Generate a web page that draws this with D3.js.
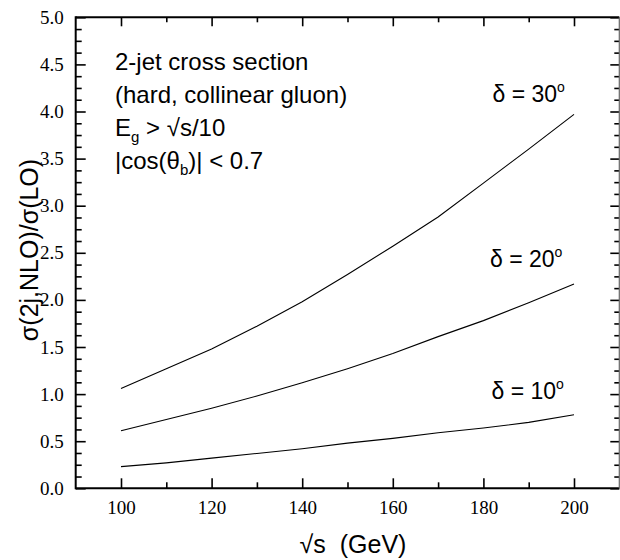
<!DOCTYPE html>
<html>
<head>
<meta charset="utf-8">
<script src="https://cdn.jsdelivr.net/npm/d3@7"></script>
<style>
  body { margin: 0; background: #fff; }
  svg { display: block; }
</style>
</head>
<body>
<script>
// sqrt(s) in GeV and the NLO/LO ratio for three cone sizes
var sqrtS   = [100, 110, 120, 130, 140, 150, 160, 170, 180, 190, 200];
var delta30 = [1.06, 1.27, 1.48, 1.72, 1.98, 2.27, 2.57, 2.88, 3.24, 3.60, 3.97];
var delta20 = [0.61, 0.73, 0.85, 0.98, 1.12, 1.27, 1.43, 1.61, 1.78, 1.97, 2.17];
var delta10 = [0.23, 0.27, 0.32, 0.37, 0.42, 0.48, 0.53, 0.59, 0.64, 0.70, 0.78];
var curveLabels = ['30', '20', '10'];

var xMajor = [100, 120, 140, 160, 180, 200];
var xMinor = [110, 130, 150, 170, 190];
var yMajor = [0, 0.5, 1, 1.5, 2, 2.5, 3, 3.5, 4, 4.5, 5];

var W = 620, H = 560;
var box = {left: 75.7, right: 619.3, top: 17.3, bottom: 488.3};

var svg = d3.select('body').append('svg')
  .attr('width', W)
  .attr('height', H);

var x = d3.scaleLinear().domain([90, 210]).range([box.left, box.right]);
var y = d3.scaleLinear().domain([0, 5]).range([box.bottom, box.top]);

var yMinor = d3.range(0, 5.0001, 0.125).filter(function(v) {
  return yMajor.indexOf(v) < 0;
});

var serif = '"Liberation Serif", "Times New Roman", serif';
var sans = '"Liberation Sans", Arial, sans-serif';

function styleAxis(g) {
  g.select('.domain').remove();
  g.selectAll('.tick line').attr('stroke', '#000').attr('stroke-width', 1.6);
  g.selectAll('.tick text')
    .attr('fill', '#000')
    .style('font-family', serif)
    .style('font-size', '19px');
}

// bottom axis
svg.append('g')
  .attr('transform', 'translate(0,' + box.bottom + ')')
  .call(d3.axisBottom(x).tickValues(xMajor).tickSize(-10).tickPadding(12).tickFormat(d3.format('d')))
  .call(styleAxis);
svg.append('g')
  .attr('transform', 'translate(0,' + box.bottom + ')')
  .call(d3.axisBottom(x).tickValues(xMinor).tickSize(-6).tickFormat(''))
  .call(styleAxis);

// top axis (ticks only)
svg.append('g')
  .attr('transform', 'translate(0,' + box.top + ')')
  .call(d3.axisTop(x).tickValues(xMajor).tickSize(-9).tickFormat(''))
  .call(styleAxis);
svg.append('g')
  .attr('transform', 'translate(0,' + box.top + ')')
  .call(d3.axisTop(x).tickValues(xMinor).tickSize(-5).tickFormat(''))
  .call(styleAxis);

// left axis
svg.append('g')
  .attr('transform', 'translate(' + box.left + ',0)')
  .call(d3.axisLeft(y).tickValues(yMajor).tickSize(-10).tickPadding(12).tickFormat(d3.format('.1f')))
  .call(styleAxis);
svg.append('g')
  .attr('transform', 'translate(' + box.left + ',0)')
  .call(d3.axisLeft(y).tickValues(yMinor).tickSize(-6).tickFormat(''))
  .call(styleAxis);

// right axis (ticks only)
svg.append('g')
  .attr('transform', 'translate(' + box.right + ',0)')
  .call(d3.axisRight(y).tickValues(yMajor).tickSize(-9).tickFormat(''))
  .call(styleAxis);
svg.append('g')
  .attr('transform', 'translate(' + box.right + ',0)')
  .call(d3.axisRight(y).tickValues(yMinor).tickSize(-5).tickFormat(''))
  .call(styleAxis);

// frame
var frame = svg.append('g').attr('stroke', '#000').attr('fill', 'none');
frame.append('line').attr('x1', box.left).attr('x2', box.right).attr('y1', box.bottom).attr('y2', box.bottom).attr('stroke-width', 2);
frame.append('line').attr('x1', box.left).attr('x2', box.right).attr('y1', box.top).attr('y2', box.top).attr('stroke-width', 2);
frame.append('line').attr('x1', box.left).attr('x2', box.left).attr('y1', box.top - 1).attr('y2', box.bottom + 1).attr('stroke-width', 2);
frame.append('line').attr('x1', box.right).attr('x2', box.right).attr('y1', box.top).attr('y2', box.bottom).attr('stroke-width', 1.2).attr('stroke', '#666');

// curves
var line = d3.line()
  .x(function(d) { return x(d[0]); })
  .y(function(d) { return y(d[1]); });

[delta30, delta20, delta10].forEach(function(vals) {
  svg.append('path')
    .datum(sqrtS.map(function(s, i) { return [s, vals[i]]; }))
    .attr('d', line)
    .attr('fill', 'none')
    .attr('stroke', '#000')
    .attr('stroke-width', 1.1);
});

// curve labels
var labelPos = [[492.5, 101.7], [490, 266.7], [491.5, 399.3]];
curveLabels.forEach(function(lab, i) {
  var t = svg.append('text')
    .attr('x', labelPos[i][0])
    .attr('y', labelPos[i][1])
    .style('font-family', sans)
    .style('font-size', '23px');
  t.append('tspan').text('\u03b4 = ' + lab);
  t.append('tspan').attr('dy', -10).style('font-size', '14px').text('o');
});

// annotation block
var ann = svg.append('g')
  .style('font-family', sans)
  .style('font-size', '24px');
ann.append('text').attr('x', 115).attr('y', 70).text('2-jet cross section');
ann.append('text').attr('x', 115).attr('y', 103).text('(hard, collinear gluon)');
var e = ann.append('text').attr('x', 115).attr('y', 136);
e.append('tspan').text('E');
e.append('tspan').attr('dy', 6).style('font-size', '15px').text('g');
e.append('tspan').attr('dy', -6).text(' > \u221as/10');
var c = ann.append('text').attr('x', 115).attr('y', 169);
c.append('tspan').text('|cos(\u03b8');
c.append('tspan').attr('dy', 6).style('font-size', '15px').text('b');
c.append('tspan').attr('dy', -6).text(')| < 0.7');

// axis titles
svg.append('text')
  .attr('x', 353)
  .attr('y', 553)
  .attr('text-anchor', 'middle')
  .style('font-family', sans)
  .style('font-size', '25px')
  .text('\u221as  (GeV)')
  .attr('xml:space', 'preserve')
  .style('white-space', 'pre');

svg.append('text')
  .attr('transform', 'translate(38,' + 250 + ') rotate(-90)')
  .attr('text-anchor', 'middle')
  .style('font-family', sans)
  .style('font-size', '25px')
  .text('\u03c3(2j,NLO)/\u03c3(LO)');
</script>
</body>
</html>
